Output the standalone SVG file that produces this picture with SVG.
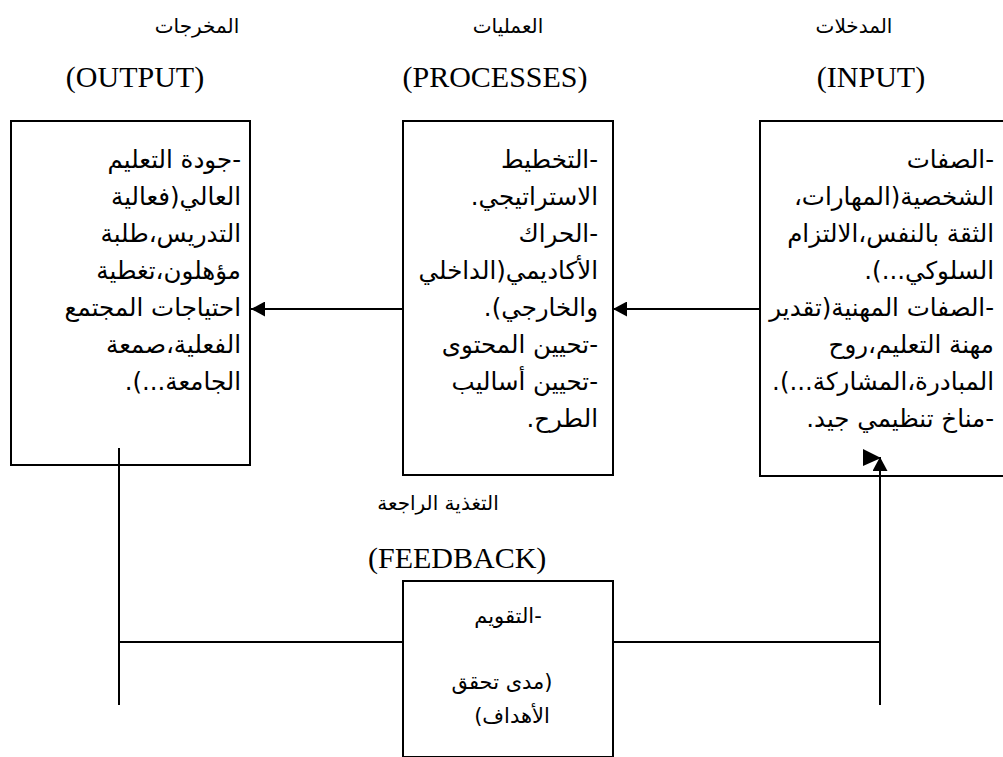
<svg xmlns="http://www.w3.org/2000/svg" width="1003" height="757" viewBox="0 0 1003 757">
<defs>
<style>
.box{fill:#fff;stroke:#000;stroke-width:2}
.ln{fill:none;stroke:#000;stroke-width:2}
.ar{font-family:"DejaVu Sans",sans-serif;font-size:24.5px;fill:#000}
.fb{font-family:"DejaVu Sans",sans-serif;font-size:21px;fill:#000}
.hd{font-family:"DejaVu Sans",sans-serif;font-size:20px;fill:#000}
.en{font-family:"Liberation Serif",serif;font-size:30px;fill:#000}
.rt{direction:rtl;unicode-bidi:embed}
</style>
<marker id="ah" viewBox="0 0 14 15" refX="14" refY="7.5" markerWidth="14" markerHeight="15" markerUnits="userSpaceOnUse" orient="auto">
<path d="M0,0 L14,7.5 L0,15 Z" fill="#000"/>
</marker>
</defs>
<rect width="1003" height="757" fill="#fff"/>

<g id="headers">
<text class="hd rt" x="197" y="33" text-anchor="middle">المخرجات</text>
<text class="hd rt" x="508" y="33" text-anchor="middle">العمليات</text>
<text class="hd rt" x="854" y="33" text-anchor="middle">المدخلات</text>
<text class="en" x="135" y="87" text-anchor="middle">(OUTPUT)</text>
<text class="en" x="495" y="87" text-anchor="middle">(PROCESSES)</text>
<text class="en" x="871" y="87" text-anchor="middle">(INPUT)</text>
</g>

<g id="output">
<rect class="box" x="11" y="121" width="239" height="344"/>
<g class="ar rt">
<text x="241" y="168">-جودة التعليم</text>
<text x="241" y="205">العالي(فعالية</text>
<text x="241" y="242">التدريس،طلبة</text>
<text x="241" y="279">مؤهلون،تغطية</text>
<text x="241" y="316">احتياجات المجتمع</text>
<text x="241" y="353">الفعلية،صمعة</text>
<text x="241" y="390">الجامعة...).</text>
</g>
</g>

<g id="processes">
<rect class="box" x="403" y="121" width="210" height="354"/>
<g class="ar rt">
<text x="598" y="168">-التخطيط</text>
<text x="598" y="205">الاستراتيجي.</text>
<text x="598" y="242">-الحراك</text>
<text x="598" y="279">الأكاديمي(الداخلي</text>
<text x="598" y="316">والخارجي).</text>
<text x="598" y="353">-تحيين المحتوى</text>
<text x="598" y="390">-تحيين أساليب</text>
<text x="598" y="427">الطرح.</text>
</g>
</g>

<g id="input">
<rect class="box" x="760" y="121" width="260" height="355"/>
<g class="ar rt">
<text x="994" y="168">-الصفات</text>
<text x="994" y="205">الشخصية(المهارات،</text>
<text x="994" y="242">الثقة بالنفس،الالتزام</text>
<text x="994" y="279">السلوكي...).</text>
<text x="994" y="316">-الصفات المهنية(تقدير</text>
<text x="994" y="353">مهنة التعليم،روح</text>
<text x="994" y="390">المبادرة،المشاركة...).</text>
<text x="994" y="427">-مناخ تنظيمي جيد.</text>
</g>
</g>

<g id="feedback-label">
<text class="hd rt" x="438" y="510" text-anchor="middle">التغذية الراجعة</text>
<text class="en" x="368" y="568">(FEEDBACK)</text>
</g>

<g id="feedback">
<rect class="box" x="403" y="581" width="210" height="176"/>
<g class="fb rt">
<text x="508" y="623" text-anchor="middle">-التقويم</text>
<text x="502" y="689" text-anchor="middle">(مدى تحقق</text>
<text x="512" y="723" text-anchor="middle">الأهداف)</text>
</g>
</g>

<g id="connectors">
<line class="ln" x1="403" y1="309" x2="251" y2="309" marker-end="url(#ah)"/>
<line class="ln" x1="760" y1="309" x2="613" y2="309" marker-end="url(#ah)"/>
<line class="ln" x1="119" y1="448" x2="119" y2="705"/>
<line class="ln" x1="119" y1="642" x2="403" y2="642"/>
<line class="ln" x1="613" y1="642" x2="880" y2="642"/>
<line class="ln" x1="880" y1="705" x2="880" y2="457" marker-end="url(#ah)"/>
<polygon points="863,449 863,466 881,458" fill="#000"/>
</g>
</svg>
